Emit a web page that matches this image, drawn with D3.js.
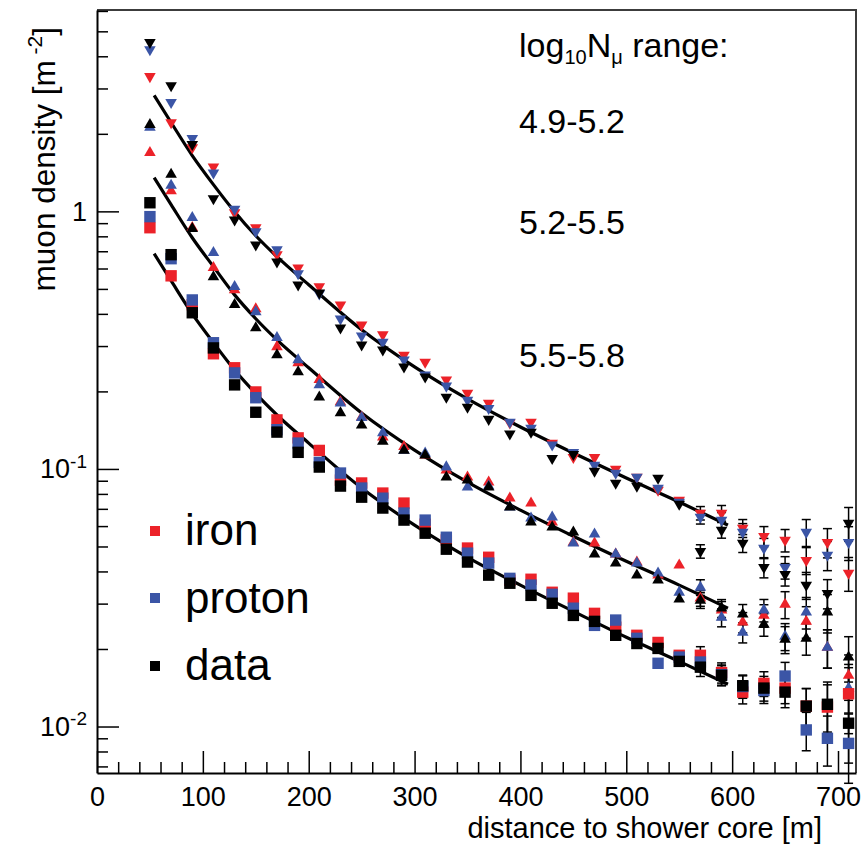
<!DOCTYPE html>
<html><head><meta charset="utf-8">
<script src="https://cdn.jsdelivr.net/npm/d3@7"></script>
<style>
body{margin:0;background:#fff}
svg{display:block}
text{font-family:"Liberation Sans",Arial,Helvetica,sans-serif;fill:#000}
</style>
</head><body>
<svg id="c" width="865" height="848"></svg>
<script>
// ---------------- data ----------------
const distances = [50,70,90,110,130,150,170,190,210,230,250,270,290,310,330,350,370,390,410,430,450,470,490,510,530,550,570,590,610,630,650,670,690,710];

// top band (down triangles)
const ironHigh   = [3.34,2.21,1.77,1.49,0.988,0.864,0.679,0.604,0.510,0.434,0.363,0.332,0.277,0.260,0.222,0.197,0.180,0.151,0.152,0.126,0.111,0.111,0.0999,0.0930,0.0828,0.0757,0.0674,0.0674,0.0589,0.0548,0.0529,0.0442,0.0519,0.0394];
const protonHigh = [4.25,2.65,1.92,1.41,1.02,0.834,0.710,0.573,0.479,0.383,0.329,0.311,0.265,0.232,0.210,0.185,0.172,0.152,0.144,0.124,0.116,0.1035,0.0964,0.0930,0.0843,0.0744,0.0650,0.0633,0.0568,0.0493,0.0415,0.0568,0.0463,0.0519];
const dataHigh   = [4.53,3.08,1.82,1.12,0.928,0.742,0.637,0.519,0.483,0.353,0.303,0.290,0.249,0.228,0.190,0.174,0.156,0.137,0.139,0.110,0.114,0.0981,0.0882,0.0858,0.0922,0.0730,0.0479,0.0579,0.0515,0.0415,0.0390,0.0354,0.0329,0.0616];

// middle band (up triangles)
const ironMid   = [1.69,1.20,0.864,0.604,0.496,0.418,0.298,0.258,0.222,0.182,0.159,0.133,0.122,0.113,0.0990,0.0930,0.0889,0.0770,0.0737,0.0622,0.0519,0.0515,0.0467,0.0435,0.0387,0.0423,0.0315,0.0283,0.0254,0.0270,0.0298,0.0256,0.0203,0.0158];
const protonMid = [2.12,1.26,0.945,0.691,0.510,0.407,0.323,0.265,0.212,0.180,0.158,0.138,0.118,0.115,0.1017,0.0850,0.0858,0.0711,0.0644,0.0650,0.0515,0.0558,0.0467,0.0431,0.0394,0.0332,0.0347,0.0265,0.0232,0.0283,0.0224,0.0278,0.0203,0.0141];
const dataMid   = [2.17,1.39,0.857,0.557,0.434,0.353,0.277,0.238,0.190,0.165,0.148,0.128,0.118,0.113,0.0930,0.0905,0.0850,0.0711,0.0622,0.0594,0.0568,0.0467,0.0431,0.0387,0.0370,0.0312,0.0309,0.0288,0.0273,0.0249,0.0218,0.0220,0.0278,0.0186];

// lower band (squares)
const ironLow   = [0.864,0.562,0.434,0.280,0.247,0.199,0.155,0.132,0.118,0.0905,0.0882,0.0806,0.0737,0.0610,0.0530,0.0493,0.0454,0.0370,0.0373,0.0332,0.0315,0.0275,0.0243,0.0226,0.0212,0.0189,0.0189,0.0162,0.0136,0.0147,0.0141,0.0120,0.0119,0.0134];
const protonLow = [0.954,0.655,0.453,0.309,0.236,0.189,0.142,0.126,0.106,0.0964,0.0843,0.0770,0.0674,0.0633,0.0543,0.0471,0.0431,0.0376,0.0354,0.0326,0.0288,0.0247,0.0259,0.0220,0.0176,0.0186,0.0178,0.0159,0.0143,0.0138,0.0157,0.0097,0.0090,0.0086];
const dataLow   = [1.08,0.679,0.404,0.295,0.212,0.166,0.139,0.116,0.1017,0.0858,0.0777,0.0705,0.0633,0.0563,0.0488,0.0435,0.0387,0.0360,0.0323,0.0301,0.0270,0.0256,0.0226,0.0210,0.0201,0.0179,0.0170,0.0158,0.0144,0.0141,0.0136,0.0120,0.0122,0.0103];

// fitted lateral distribution curves
const fitDistances = [54,70,90,110,130,150,170,200,250,300,350,400,450,500,550,596];
const fitHigh = [2.818,2.213,1.647,1.270,0.997,0.804,0.667,0.519,0.347,0.249,0.187,0.1455,0.1153,0.0922,0.0744,0.0605];
const fitMid  = [1.352,1.062,0.790,0.610,0.474,0.383,0.317,0.247,0.165,0.1184,0.0889,0.0692,0.0548,0.0438,0.0354,0.0288];
const fitLow  = [0.685,0.538,0.400,0.309,0.242,0.196,0.162,0.126,0.0843,0.0605,0.0454,0.0354,0.0280,0.0222,0.0179,0.0146];

// relative errors shown in the tail
const errDistances = [570,590,610,630,650,670,690,710];
const errHigh = [0.06,0.07,0.08,0.09,0.10,0.12,0.13,0.15];
const errMid  = [0.07,0.08,0.09,0.10,0.12,0.14,0.17,0.20];
const errLow  = [0.08,0.09,0.10,0.11,0.13,0.17,0.22,0.30];

const xTickValues = [0,100,200,300,400,500,600,700];
const yTickValues = [0.01,0.1,1];
const yTickBase = ['10','10','1'];
const yTickExp  = ['-2','-1',''];
const legendLabels = ['iron','proton','data'];
const rangeLabels = ['4.9-5.2','5.2-5.5','5.5-5.8'];

// ---------------- drawing ----------------
const RED = '#ec2229', BLUE = '#3b55a6', BLACK = '#000';
const svg = d3.select('#c');
const x = d3.scaleLinear().domain([0,717]).range([97,856]);
const y = d3.scaleLog().domain([0.0066,6.05]).range([773,10]);

// frame (top & right)
svg.append('path').attr('d', `M${x(0)},${y(6.05)}H${x(717)}V${y(0.0066)}`)
  .attr('fill','none').attr('stroke','#3c3c3c').attr('stroke-width',2);

// x axis
const xMinor = d3.range(0, 717, 20).filter(v => v % 100 !== 0);
svg.append('g').attr('transform',`translate(0,${y(0.0066)})`)
  .call(d3.axisBottom(x).tickValues(xMinor).tickSizeInner(-11).tickSizeOuter(0).tickFormat(''))
  .call(g => g.select('.domain').remove())
  .call(g => g.selectAll('line').attr('stroke','#000').attr('stroke-width',1.5));
svg.append('g').attr('transform',`translate(0,${y(0.0066)})`)
  .call(d3.axisBottom(x).tickValues(xTickValues).tickSizeInner(-22).tickSizeOuter(0).tickPadding(14).tickFormat(d3.format('d')))
  .call(g => g.select('.domain').attr('stroke','#000').attr('stroke-width',2))
  .call(g => g.selectAll('line').attr('stroke','#000').attr('stroke-width',1.5))
  .call(g => g.selectAll('text').attr('font-size',27).attr('font-family','"Liberation Sans",Arial,sans-serif').attr('fill','#000'));

// y axis
const yMinor = [];
[0.001,0.01,0.1,1].forEach(dec => { for (let k=2;k<=9;k++){ const v=dec*k; if (v>=0.0066 && v<=6.05) yMinor.push(v);} });
svg.append('g').attr('transform',`translate(${x(0)},0)`)
  .call(d3.axisLeft(y).tickValues(yMinor).tickSizeInner(-11).tickSizeOuter(0).tickFormat(''))
  .call(g => g.select('.domain').remove())
  .call(g => g.selectAll('line').attr('stroke','#000').attr('stroke-width',1.5));
const yAx = svg.append('g').attr('transform',`translate(${x(0)},0)`)
  .call(d3.axisLeft(y).tickValues(yTickValues).tickSizeInner(-22).tickSizeOuter(0).tickPadding(10).tickFormat(''))
  .call(g => g.select('.domain').attr('stroke','#000').attr('stroke-width',2))
  .call(g => g.selectAll('line').attr('stroke','#000').attr('stroke-width',1.5));
yAx.selectAll('.tick text').each(function(d,i){
  const t = d3.select(this).attr('font-size',27).attr('font-family','"Liberation Sans",Arial,sans-serif').attr('fill','#000');
  t.text(null);
  t.append('tspan').text(yTickBase[i]);
  if (yTickExp[i]) t.append('tspan').attr('font-size',19).attr('dy','-0.55em').text(yTickExp[i]);
});

// axis titles
svg.append('text').attr('x',822).attr('y',838).attr('text-anchor','end').attr('font-size',29)
  .text('distance to shower core [m]');
const yt = svg.append('text').attr('transform','translate(55,27) rotate(-90)').attr('text-anchor','end').attr('font-size',31.5);
yt.append('tspan').text('muon density [m');
yt.append('tspan').attr('font-size',21).attr('dy',-13).text(' -2');
yt.append('tspan').attr('dy',13).text(']');

// fit curves
const lineGen = d3.line().x(d=>x(d[0])).y(d=>y(d[1])).curve(d3.curveMonotoneX);
[fitHigh, fitMid, fitLow].forEach(arr => {
  svg.append('path').datum(fitDistances.map((d,i)=>[d,arr[i]]))
    .attr('d', lineGen).attr('fill','none').attr('stroke','#000').attr('stroke-width',3.2);
});

// series
const groups = [
  {series:[ironHigh,protonHigh,dataHigh], err:errHigh, shape:'down'},
  {series:[ironMid,protonMid,dataMid], err:errMid, shape:'up'},
  {series:[ironLow,protonLow,dataLow], err:errLow, shape:'square'}
];
const colors = [RED, BLUE, BLACK];
const triUp = d3.symbol().type(d3.symbolTriangle).size(58)();
const sq = d3.symbol().type(d3.symbolSquare).size(130)();

// error bars first
groups.forEach(g => {
  g.series.forEach((vals) => {
    errDistances.forEach((ed, k) => {
      const i = distances.indexOf(ed);
      const v = vals[i], e = g.err[k];
      const px = x(ed), y1 = y(v*(1+e)), y2 = y(v*(1-e));
      const eg = svg.append('g').attr('stroke','#000').attr('stroke-width',1.5);
      eg.append('line').attr('x1',px).attr('x2',px).attr('y1',y1).attr('y2',y2);
      eg.append('line').attr('x1',px-4.5).attr('x2',px+4.5).attr('y1',y1).attr('y2',y1);
      eg.append('line').attr('x1',px-4.5).attr('x2',px+4.5).attr('y1',y2).attr('y2',y2);
    });
  });
});

groups.forEach(g => {
  g.series.forEach((vals, s) => {
    svg.append('g').selectAll('path').data(distances.map((d,i)=>[d, vals[i]])).join('path')
      .attr('d', g.shape === 'square' ? sq : triUp)
      .attr('transform', d => `translate(${x(d[0])},${y(d[1])})` + (g.shape==='down' ? ' rotate(180)' : ''))
      .attr('fill', colors[s]);
  });
});

// legend
const legY = [531, 598, 666];
const legBase = [545, 613, 680];
legendLabels.forEach((lab,i) => {
  svg.append('rect').attr('x',150).attr('y',legY[i]-5).attr('width',10).attr('height',10).attr('fill',colors[i]);
  svg.append('text').attr('x',185).attr('y',legBase[i]).attr('font-size',44).text(lab);
});

// N_mu range annotation
const hdr = svg.append('text').attr('x',519).attr('y',57).attr('font-size',34);
hdr.append('tspan').text('log');
hdr.append('tspan').attr('font-size',20).attr('dy',7).text('10');
hdr.append('tspan').attr('dy',-7).text('N');
hdr.append('tspan').attr('font-size',20).attr('dy',7).text('μ');
hdr.append('tspan').attr('dy',-7).text(' range:');
const rangeBase = [133, 234, 367];
rangeLabels.forEach((lab,i) => {
  svg.append('text').attr('x',519).attr('y',rangeBase[i]).attr('font-size',34).text(lab);
});
</script>
</body></html>
